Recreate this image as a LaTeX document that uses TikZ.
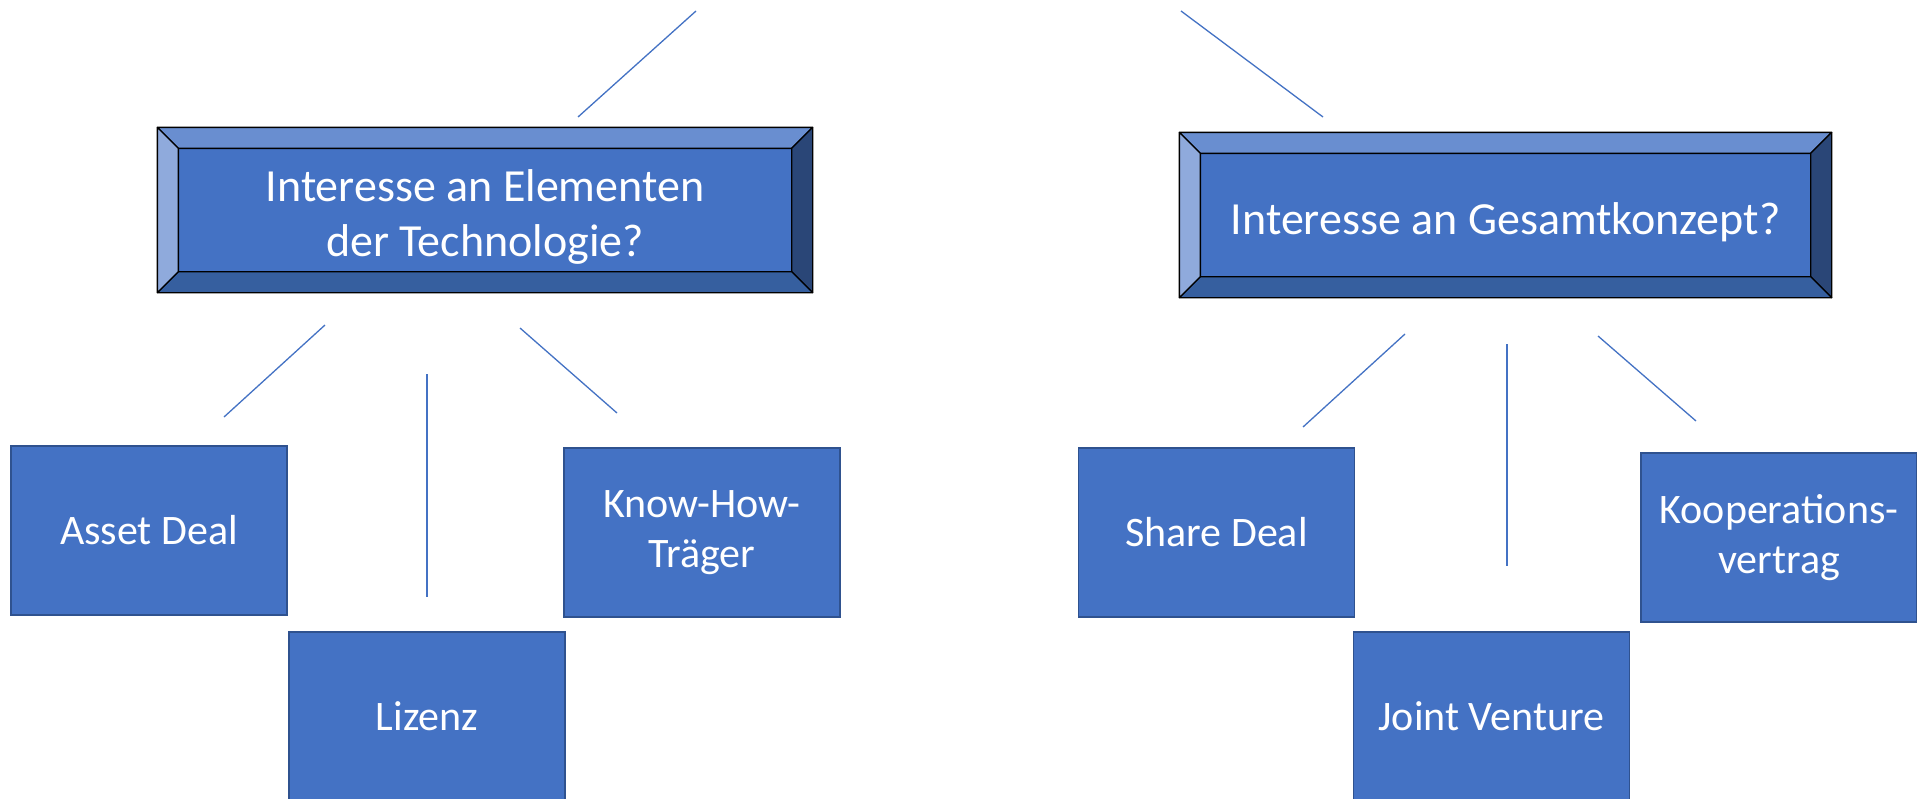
\documentclass[tikz,border=0pt]{standalone}
\usepackage{fontspec}
\setmainfont{Carlito}
\usetikzlibrary{calc}
\definecolor{boxblue}{HTML}{4472C4}
\definecolor{boxedge}{HTML}{2F528F}
\definecolor{bevtop}{HTML}{698ED0}
\definecolor{bevleft}{HTML}{8FAADC}
\definecolor{bevbottom}{HTML}{365F9F}
\definecolor{bevright}{HTML}{2A4677}

\tikzset{
  optionbox/.style={draw=boxedge, line width=1.5pt, fill=boxblue,
    minimum width=276pt, minimum height=169pt, text=white,
    font=\fontsize{42}{50}\selectfont, align=center, inner sep=0pt},
  questionbox/.style={draw=black, line width=1.3pt, fill=boxblue,
    minimum height=164pt, inner sep=0pt},
  questiontext/.style={text=white, font=\fontsize{46}{55}\selectfont,
    align=center, inner sep=0pt},
  link/.style={draw=boxblue, line width=1.3pt},
  bevelface/.style={draw=black, line width=1.3pt, line join=round},
}

% four bevel faces around a question node: #1 = node name, #2 = depth
\newcommand{\bevelframe}[2]{%
  \coordinate (#1-a) at ($(#1.north west)+(#2,#2)$);
  \coordinate (#1-b) at ($(#1.north east)+(-#2,#2)$);
  \coordinate (#1-c) at ($(#1.south east)+(-#2,-#2)$);
  \coordinate (#1-d) at ($(#1.south west)+(#2,-#2)$);
  \filldraw[bevelface, fill=bevtop] (#1.north west) -- (#1.north east) -- (#1-b) -- (#1-a) -- cycle;
  \filldraw[bevelface, fill=bevright] (#1.north east) -- (#1.south east) -- (#1-c) -- (#1-b) -- cycle;
  \filldraw[bevelface, fill=bevbottom] (#1.south east) -- (#1.south west) -- (#1-d) -- (#1-c) -- cycle;
  \filldraw[bevelface, fill=bevleft] (#1.south west) -- (#1.north west) -- (#1-a) -- (#1-d) -- cycle;
}

\begin{document}
\begin{tikzpicture}[x=1pt, y=-1pt]
  \fill[white] (0,0) rectangle (1917,798);
  \useasboundingbox (0,0) rectangle (1917,798);

  % question boxes
  \node[questionbox, minimum width=654pt] (qtech) at (485,210) {};
  \bevelframe{qtech}{21}
  \node[questiontext] (qtech-text) at ($(qtech.center)+(0,7)$)
    {Interesse an Elementen\\der Technologie?};
  \node[questionbox, minimum width=651pt] (qall) at (1505.5,215) {};
  \bevelframe{qall}{21}
  \node[questiontext] (qall-text) at ($(qall.center)+(0,7)$)
    {Interesse an Gesamtkonzept?};

  % option boxes
  \node[optionbox] (asset) at (149,530.5) {Asset Deal};
  \node[optionbox] (lizenz) at (427,716.5) {Lizenz};
  \node[optionbox] (knowhow) at (702,532.5) {Know-How-\\Träger};
  \node[optionbox] (share) at (1216.5,532.5) {Share Deal};
  \node[optionbox] (joint) at (1491.5,716.5) {Joint Venture};
  \node[optionbox] (koop) at (1779,537.5) {Kooperations-\\vertrag};

  % connector end points
  \coordinate (t1a) at (696,11);   \coordinate (t1b) at (578,117);
  \coordinate (t2a) at (1181,11);  \coordinate (t2b) at (1323,117);
  \coordinate (l1a) at (325,325);  \coordinate (l1b) at (224,417);
  \coordinate (l2a) at (427,374);  \coordinate (l2b) at (427,597);
  \coordinate (l3a) at (520,328);  \coordinate (l3b) at (617,413);
  \coordinate (r1a) at (1405,334); \coordinate (r1b) at (1303,427);
  \coordinate (r2a) at (1507,344); \coordinate (r2b) at (1507,566);
  \coordinate (r3a) at (1598,336); \coordinate (r3b) at (1696,421);

  % connectors
  \draw[link] (t1a) -- (t1b);
  \draw[link] (t2a) -- (t2b);
  \draw[link] (l1a) -- (l1b);
  \draw[link] (l2a) -- (l2b);
  \draw[link] (l3a) -- (l3b);
  \draw[link] (r1a) -- (r1b);
  \draw[link] (r2a) -- (r2b);
  \draw[link] (r3a) -- (r3b);
\end{tikzpicture}
\end{document}
